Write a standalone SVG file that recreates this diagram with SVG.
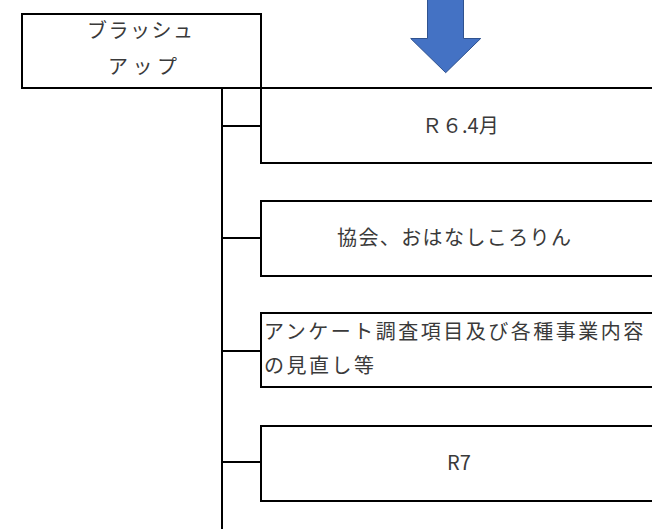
<svg xmlns="http://www.w3.org/2000/svg" width="652" height="529" viewBox="0 0 652 529">
<style>
.box{fill:#ffffff;stroke:#000000;stroke-width:2}
.ln{stroke:#000000;stroke-width:2;fill:none}
.t{font-family:"Noto Sans CJK JP","Noto Sans",sans-serif;font-size:20px;fill:#3a3a3a}
</style>
<rect width="652" height="529" fill="#ffffff"/>
<g id="arrow">
<path d="M427.5,-5 L463.5,-5 L463.5,38.5 L480.7,38.5 L445.7,72.7 L410.7,38.5 L427.5,38.5 Z" fill="#4472C4" stroke="#2F528F" stroke-width="1"/>
</g>
<g id="connectors">
<line class="ln" x1="222" y1="88" x2="222" y2="530"/>
<line class="ln" x1="222" y1="126" x2="261" y2="126"/>
<line class="ln" x1="222" y1="238" x2="261" y2="238"/>
<line class="ln" x1="222" y1="351" x2="261" y2="351"/>
<line class="ln" x1="222" y1="462" x2="261" y2="462"/>
</g>
<g id="node-brushup">
<rect class="box" x="22" y="14" width="239" height="74"/>
<text class="t" x="87" y="38" letter-spacing="1.5">ブラッシュ</text>
<text class="t" x="108" y="74" letter-spacing="4.5">アップ</text>
</g>
<g id="node-r64">
<rect class="box" x="261" y="88" width="400" height="75"/>
<text class="t" x="422" y="133">Ｒ６.4月</text>
</g>
<g id="node-kyokai">
<rect class="box" x="261" y="201" width="400" height="75"/>
<text class="t" x="337" y="245" letter-spacing="1.4">協会、おはなしころりん</text>
</g>
<g id="node-survey">
<rect class="box" x="261" y="313" width="400" height="74"/>
<text class="t" x="264" y="339" letter-spacing="2.5">アンケート調査項目及び各種事業内容</text>
<text class="t" x="264" y="373" letter-spacing="2.5">の見直し等</text>
</g>
<g id="node-r7">
<rect class="box" x="261" y="426" width="400" height="75"/>
<text class="t" x="447" y="470">R7</text>
</g>
</svg>
